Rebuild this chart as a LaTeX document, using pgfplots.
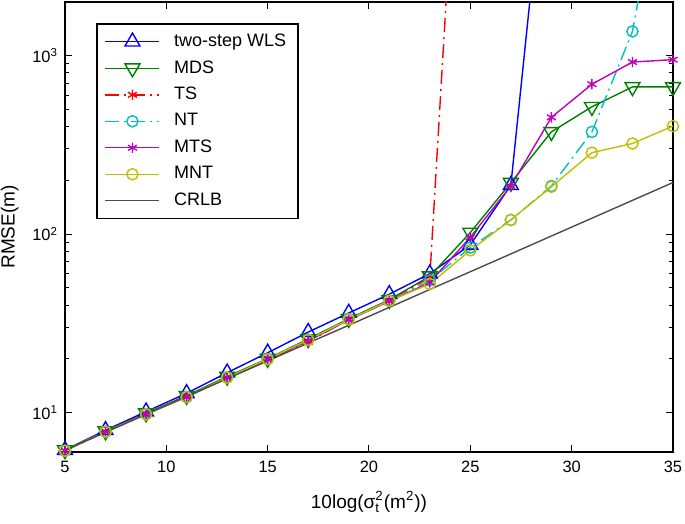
\documentclass[border=0pt]{standalone}
\usepackage{fontspec}
\setmainfont{Liberation Sans}
\usepackage{amsmath}
\usepackage{pgfplots}
\pgfplotsset{compat=1.18}
\definecolor{mblue}{rgb}{0,0,1}
\definecolor{mgreen}{rgb}{0,0.5,0}
\definecolor{mred}{rgb}{1,0,0}
\definecolor{mcyan}{rgb}{0,0.75,0.75}
\definecolor{mmag}{rgb}{0.75,0,0.75}
\definecolor{myel}{rgb}{0.75,0.75,0}
\definecolor{mgray}{rgb}{0.3,0.3,0.3}
\begin{document}
\begin{tikzpicture}
\begin{axis}[
  scale only axis, width=304pt, height=225pt,
  ymode=log, xmin=5, xmax=35, ymin=6, ymax=2000,
  xtick={5,10,...,35},
  ytick={10,100,1000},
  yticklabels={10\textsuperscript{1},10\textsuperscript{2},10\textsuperscript{3}},
  /pgf/number format/assume math mode=true,
  tick label style={font=\fontsize{8.2}{9}\selectfont},
  xticklabel style={yshift=-1pt},
  label style={font=\fontsize{9.5}{11}\selectfont},
  xlabel style={yshift=-2.5pt},
  axis line style={line width=0.75pt},
  major tick length=3.5pt, minor tick length=2pt,
  tick style={black, line width=0.5pt},
  xlabel={10log($\text{σ}_{\text{t}}^{\text{2}}$(m\textsuperscript{2}))},
  ylabel={RMSE(m)},
  legend cell align=left,
  legend image code/.code={\draw[mark repeat=2,mark phase=2,#1] plot coordinates {(0pt,0pt) (13.5pt,0pt) (27pt,0pt)};},
  legend style={at={(0.051,0.953)}, anchor=north west, draw=black, line width=0.75pt, fill=white,
    font=\fontsize{9}{11}\selectfont, inner xsep=4pt, inner ysep=3pt, row sep=1.5pt,
    /tikz/every odd column/.append style={column sep=5pt}},
  every axis plot/.append style={line width=0.7pt},
]
\addplot[mblue, mark=triangle, mark size=4.3pt, mark options={solid}] coordinates {
(5,6.15) (7,7.95) (9,10.1) (11,12.8) (13,16.7) (15,21.6) (17,28.2) (19,36.1) (21,46.0) (23,60.0) (25,87) (27,188) (29,30000) (31,100000) (33,200000) (35,300000)};
\addlegendentry{two-step WLS\hspace{3pt}}
\addplot[mgreen, mark=triangle, mark size=4.3pt, mark options={solid, rotate=180}] coordinates {
(5,6.15) (7,7.85) (9,9.9) (11,12.4) (13,15.9) (15,20.0) (17,25.8) (19,33.5) (21,42.8) (23,58) (25,102) (27,194) (29,374) (31,517) (33,668) (35,668)};
\addlegendentry{MDS}
\addplot[mred, mark=asterisk, mark size=2.6pt, mark options={solid}, dash pattern=on 7pt off 2.5pt on 1pt off 2.5pt] coordinates {
(5,6.1) (7,7.8) (9,9.8) (11,12.3) (13,15.7) (15,19.9) (17,24.8) (19,33.3) (21,42.5) (23,57) (25,400000)};
\addlegendentry{TS}
\addplot[mcyan, mark=o, mark size=2.8pt, mark options={solid}, dash pattern=on 7pt off 2.5pt on 1pt off 2.5pt] coordinates {
(5,6.1) (7,7.8) (9,9.8) (11,12.2) (13,15.7) (15,19.9) (17,25.6) (19,33.4) (21,42.3) (23,55) (25,84) (27,120) (29,186) (31,374) (33,1368) (35,23000)};
\addlegendentry{NT}
\addplot[mmag, mark=asterisk, mark size=2.6pt, mark options={solid}] coordinates {
(5,6.1) (7,7.8) (9,9.8) (11,12.2) (13,15.6) (15,19.8) (17,25.2) (19,33.0) (21,42.0) (23,53.5) (25,96) (27,186) (29,451) (31,692) (33,921) (35,950)};
\addlegendentry{MTS}
\addplot[myel, mark=o, mark size=2.8pt, mark options={solid}] coordinates {
(5,6.1) (7,7.8) (9,9.75) (11,12.2) (13,15.7) (15,19.9) (17,25.5) (19,33.2) (21,42.2) (23,52.5) (25,81) (27,120) (29,184) (31,286) (33,322) (35,403)};
\addlegendentry{MNT}
\addplot[mgray] coordinates {
(5,6.15) (7,7.74) (9,9.75) (11,12.27) (13,15.45) (15,19.45) (17,24.5) (19,30.8) (21,38.8) (23,48.9) (25,61.5) (27,77.4) (29,97.5) (31,122.7) (33,154.5) (35,194.5)};
\addlegendentry{CRLB}
\end{axis}
\pgfresetboundingbox
\path ([shift={(-32.5pt,-36pt)}]current axis.south west) rectangle ([shift={(6pt,1pt)}]current axis.north east);
\end{tikzpicture}
\end{document}
